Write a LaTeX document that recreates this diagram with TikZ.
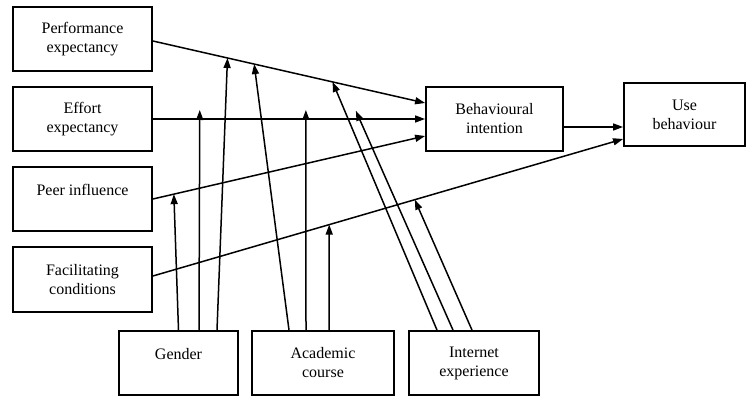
\documentclass[tikz,border=0pt]{standalone}
\usepackage{fontspec}
\setmainfont{Liberation Serif}
\usepackage{tikz}
\usetikzlibrary{arrows.meta}
\tikzset{
  box/.style={rectangle, draw, line width=1.8pt, minimum height=64pt,
              inner sep=0pt, align=center, font=\fontsize{16}{19}\selectfont},
  arrow/.style={-{Triangle[length=10pt, width=7pt]}, line width=1.5pt},
  over/.style={shorten >=-9pt}
}

\begin{document}
\begin{tikzpicture}[x=1pt, y=1pt]
  \useasboundingbox (0,0) rectangle (746,396);

  \node[box, minimum width=139pt] (perf) at (82.5,357)
    {Performance\\expectancy};
  \node[box, minimum width=139pt] (effort) at (82.5,277)
    {Effort\\expectancy};
  \node[box, minimum width=139pt] (peer) at (82.5,197)
    {Peer influence\\\mbox{}};
  \node[box, minimum width=139pt, minimum height=65pt] (fac) at (82.5,116.5)
    {Facilitating\\conditions};

  \node[box, minimum width=137pt] (intent) at (494.5,277)
    {Behavioural\\intention};
  \node[box, minimum width=121pt, minimum height=63pt] (use) at (684.5,281.5)
    {Use\\behaviour};

  \node[box, minimum width=119pt] (gender) at (178.5,33)
    {Gender\\\mbox{}};
  \node[box, minimum width=142pt] (course) at (323,33)
    {Academic\\course};
  \node[box, minimum width=130pt] (internet) at (474,33)
    {Internet\\experience};

  \draw[arrow] ([yshift=-2pt]perf.east) -- coordinate[pos=0.274] (perfA)
    coordinate[pos=0.372] (perfB) coordinate[pos=0.66] (perfC)
    ([yshift=16pt]intent.west);
  \draw[arrow] (effort.east) -- coordinate[pos=0.172] (effA)
    coordinate[pos=0.562] (effB) coordinate[pos=0.759] (effC) (intent.west);
  \draw[arrow] (peer.east) -- coordinate[pos=0.077] (peerA)
    ([yshift=-17pt]intent.west);
  \draw[arrow] ([yshift=3.5pt]fac.east) -- coordinate[pos=0.375] (facA)
    coordinate[pos=0.557] (facB) ([yshift=-24.5pt]use.west);
  \draw[arrow] ([yshift=-8pt]intent.east) -- ([yshift=-12.5pt]use.west);

  \draw[arrow] (gender.north) -- (peerA);
  \draw[arrow, over] ([xshift=20.5pt]gender.north) -- (effA);
  \draw[arrow] ([xshift=38.5pt]gender.north) -- (perfA);
  \draw[arrow] ([xshift=-34pt]course.north) -- (perfB);
  \draw[arrow, over] ([xshift=-17pt]course.north) -- (effB);
  \draw[arrow] ([xshift=6pt]course.north) -- (facA);
  \draw[arrow] ([xshift=-37pt]internet.north) -- (perfC);
  \draw[arrow, over] ([xshift=-21pt]internet.north) -- (effC);
  \draw[arrow] ([xshift=-2pt]internet.north) -- (facB);

\end{tikzpicture}
\end{document}
